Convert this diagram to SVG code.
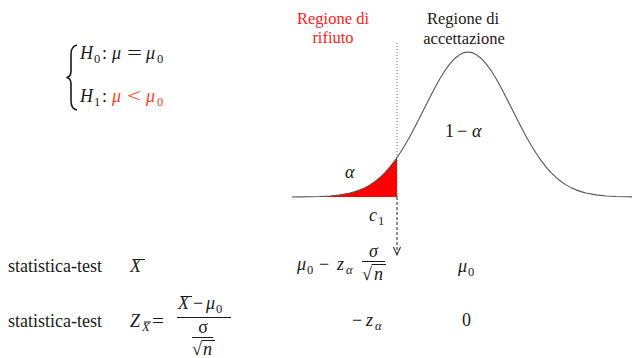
<svg xmlns="http://www.w3.org/2000/svg" width="636" height="358" viewBox="0 0 636 358">
<style>
  svg text, g text, text { font-family: "Liberation Serif", serif !important; }
  .bar { stroke: #1a1a1a; stroke-width: 1; fill: none; }
</style>
<g id="hypotheses">
  <path d="M77,45 C72.5,46 71,49 71,54 L71,71 C71,75 69.5,77 66.5,77.5 C69.5,78 71,80 71,84 L71,101 C71,106 72.5,109 77,110" fill="none" stroke="#1a1a1a" stroke-width="1.6"/>
  <text style="font-family:'Liberation Serif',serif !important" font-size="18" font-style="italic" fill="#1a1a1a" x="80" y="59">H</text>
  <text style="font-family:'Liberation Serif',serif !important" font-size="12.5" fill="#1a1a1a" x="94" y="63">0</text>
  <text style="font-family:'Liberation Serif',serif !important" font-size="18" fill="#1a1a1a" x="102" y="59">:</text>
  <text style="font-family:'Liberation Serif',serif !important" font-size="18" font-style="italic" fill="#1a1a1a" x="112" y="59">μ</text>
  <text style="font-family:'Liberation Serif',serif !important" font-size="18" fill="#1a1a1a" x="127" y="59" textLength="15" lengthAdjust="spacingAndGlyphs">=</text>
  <text style="font-family:'Liberation Serif',serif !important" font-size="18" font-style="italic" fill="#1a1a1a" x="146" y="59">μ</text>
  <text style="font-family:'Liberation Serif',serif !important" font-size="12.5" fill="#1a1a1a" x="157" y="63">0</text>

  <text style="font-family:'Liberation Serif',serif !important" font-size="18" font-style="italic" fill="#1a1a1a" x="80" y="102">H</text>
  <text style="font-family:'Liberation Serif',serif !important" font-size="12.5" fill="#1a1a1a" x="94" y="106">1</text>
  <text style="font-family:'Liberation Serif',serif !important" font-size="18" fill="#1a1a1a" x="102" y="102">:</text>
  <text style="font-family:'Liberation Serif',serif !important" font-size="18" font-style="italic" fill="#ff4020" x="112" y="102">μ</text>
  <text style="font-family:'Liberation Serif',serif !important" font-size="18" fill="#ff4020" x="127" y="102" textLength="14" lengthAdjust="spacingAndGlyphs">&lt;</text>
  <text style="font-family:'Liberation Serif',serif !important" font-size="18" font-style="italic" fill="#ff4020" x="146" y="102">μ</text>
  <text style="font-family:'Liberation Serif',serif !important" font-size="12.5" fill="#ff4020" x="157" y="106">0</text>
</g>

<g id="heading-rifiuto">
  <text style="font-family:'Liberation Serif',serif !important" font-size="16.5" text-anchor="middle" fill="#ff1a1a" x="333" y="24">Regione di</text>
  <text style="font-family:'Liberation Serif',serif !important" font-size="16.5" text-anchor="middle" fill="#ff1a1a" x="333" y="43">rifiuto</text>
</g>
<g id="heading-accettazione">
  <text style="font-family:'Liberation Serif',serif !important" font-size="16.5" text-anchor="middle" fill="#1a1a1a" x="463" y="24">Regione di</text>
  <text style="font-family:'Liberation Serif',serif !important" font-size="16.5" text-anchor="middle" fill="#1a1a1a" x="464" y="44">accettazione</text>
</g>

<g id="density">
  <path fill="#ff0000" d="M318,197 L320,196.49 L330,195.94 L340,194.89 L350,193.02 L355,191.64 L360,189.87 L365,187.63 L370,184.86 L375,181.47 L380,177.38 L385,172.52 L390,166.87 L395,160.39 L397,157.56 L397,197 Z"/>
  <path fill="none" stroke="#555" stroke-width="1.1" stroke-linejoin="round" d="M292,196.95 L300,196.9 L310,196.77 L320,196.49 L330,195.94 L340,194.89 L350,193.02 L355,191.64 L360,189.87 L365,187.63 L370,184.86 L375,181.47 L380,177.38 L385,172.52 L390,166.87 L395,160.39 L397,157.56 L400,153.06 L405,144.97 L410,136.17 L415,126.8 L420,117.02 L425,107.04 L430,97.13 L435,87.54 L440,78.58 L445,70.51 L450,63.65 L455,58.19 L460,54.38 L464,52.6 L468,52 L472,52.6 L476,54.38 L481,58.19 L486,63.65 L491,70.51 L496,78.58 L501,87.54 L506,97.13 L511,107.04 L516,117.02 L521,126.8 L526,136.17 L531,144.97 L536,153.06 L541,160.39 L546,166.87 L551,172.52 L556,177.38 L561,181.47 L566,184.86 L571,187.63 L576,189.87 L581,191.64 L586,193.02 L596,194.89 L606,195.94 L616,196.49 L626,196.77 L632,196.9"/>
  <text style="font-family:'Liberation Serif',serif !important" font-size="18" font-style="italic" fill="#1a1a1a" x="345" y="178">α</text>
  <text style="font-family:'Liberation Serif',serif !important" font-size="18" fill="#1a1a1a" x="445" y="137">1</text>
  <text style="font-family:'Liberation Serif',serif !important" font-size="18" fill="#1a1a1a" x="457" y="137">−</text>
  <text style="font-family:'Liberation Serif',serif !important" font-size="18" font-style="italic" fill="#1a1a1a" x="472" y="137">α</text>
  <text style="font-family:'Liberation Serif',serif !important" font-size="18" font-style="italic" fill="#1a1a1a" x="369" y="221">c</text>
  <text style="font-family:'Liberation Serif',serif !important" font-size="12.5" fill="#1a1a1a" x="378" y="225">1</text>
</g>

<g id="connectors">
  <line x1="397" y1="43" x2="397" y2="197" stroke="#666" stroke-width="1" stroke-dasharray="1,2"/>
  <line x1="397" y1="197" x2="397" y2="254" stroke="#333" stroke-width="1.1" stroke-dasharray="3,2"/>
  <path d="M393.5,247 L397,255 L400.5,247" fill="none" stroke="#333" stroke-width="1.1"/>
</g>

<g id="row-1">
  <text style="font-family:'Liberation Serif',serif !important" font-size="18" fill="#1a1a1a" x="8" y="272">statistica-test</text>
  <text style="font-family:'Liberation Serif',serif !important" font-size="18" font-style="italic" fill="#1a1a1a" x="130" y="272">X</text>
  <line class="bar" x1="134" y1="259.5" x2="145" y2="259.5"/>

  <text style="font-family:'Liberation Serif',serif !important" font-size="18" font-style="italic" fill="#1a1a1a" x="297" y="270">μ</text>
  <text style="font-family:'Liberation Serif',serif !important" font-size="12.5" fill="#1a1a1a" x="307" y="274">0</text>
  <text style="font-family:'Liberation Serif',serif !important" font-size="18" fill="#1a1a1a" x="319" y="270">−</text>
  <text style="font-family:'Liberation Serif',serif !important" font-size="18" font-style="italic" fill="#1a1a1a" x="337" y="270">z</text>
  <text style="font-family:'Liberation Serif',serif !important" font-size="12.5" font-style="italic" fill="#1a1a1a" x="346" y="274">α</text>
  <text style="font-family:'Liberation Serif',serif !important" font-size="18" font-style="italic" fill="#1a1a1a" x="373.5" y="257" text-anchor="middle">σ</text>
  <line class="bar" x1="362" y1="261.5" x2="385" y2="261.5"/>
  <text style="font-family:'Liberation Serif',serif !important" font-size="18" fill="#1a1a1a" x="362" y="280">√</text>
  <line class="bar" x1="371.5" y1="264.5" x2="386" y2="264.5"/>
  <text style="font-family:'Liberation Serif',serif !important" font-size="18" font-style="italic" fill="#1a1a1a" x="374" y="280">n</text>

  <text style="font-family:'Liberation Serif',serif !important" font-size="18" font-style="italic" fill="#1a1a1a" x="458" y="272">μ</text>
  <text style="font-family:'Liberation Serif',serif !important" font-size="12.5" fill="#1a1a1a" x="468" y="276">0</text>
</g>

<g id="row-2">
  <text style="font-family:'Liberation Serif',serif !important" font-size="18" fill="#1a1a1a" x="8" y="327">statistica-test</text>
  <text style="font-family:'Liberation Serif',serif !important" font-size="18" font-style="italic" fill="#1a1a1a" x="130" y="327">Z</text>
  <text style="font-family:'Liberation Serif',serif !important" font-size="12.5" font-style="italic" fill="#1a1a1a" x="142" y="331">X</text>
  <line class="bar" x1="144" y1="322" x2="151" y2="322"/>
  <text style="font-family:'Liberation Serif',serif !important" font-size="18" fill="#1a1a1a" x="152" y="327" textLength="12" lengthAdjust="spacingAndGlyphs">=</text>

  <text style="font-family:'Liberation Serif',serif !important" font-size="18" font-style="italic" fill="#1a1a1a" x="178" y="309">X</text>
  <line class="bar" x1="181" y1="296.5" x2="192" y2="296.5"/>
  <text style="font-family:'Liberation Serif',serif !important" font-size="18" fill="#1a1a1a" x="193" y="309">−</text>
  <text style="font-family:'Liberation Serif',serif !important" font-size="18" font-style="italic" fill="#1a1a1a" x="206" y="309">μ</text>
  <text style="font-family:'Liberation Serif',serif !important" font-size="12.5" fill="#1a1a1a" x="216" y="313">0</text>
  <line class="bar" x1="177" y1="317.5" x2="231" y2="317.5"/>
  <text style="font-family:'Liberation Serif',serif !important" font-size="18" fill="#1a1a1a" x="203" y="333" text-anchor="middle">σ</text>
  <line class="bar" x1="192" y1="337.5" x2="213" y2="337.5"/>
  <text style="font-family:'Liberation Serif',serif !important" font-size="18" fill="#1a1a1a" x="192" y="355">√</text>
  <line class="bar" x1="201.5" y1="340.5" x2="215" y2="340.5"/>
  <text style="font-family:'Liberation Serif',serif !important" font-size="18" font-style="italic" fill="#1a1a1a" x="203" y="355">n</text>

  <text style="font-family:'Liberation Serif',serif !important" font-size="18" fill="#1a1a1a" x="352" y="326">−</text>
  <text style="font-family:'Liberation Serif',serif !important" font-size="18" font-style="italic" fill="#1a1a1a" x="366" y="326">z</text>
  <text style="font-family:'Liberation Serif',serif !important" font-size="12.5" font-style="italic" fill="#1a1a1a" x="375" y="330">α</text>
  <text style="font-family:'Liberation Serif',serif !important" font-size="18" fill="#1a1a1a" x="462" y="326">0</text>
</g>
</svg>
